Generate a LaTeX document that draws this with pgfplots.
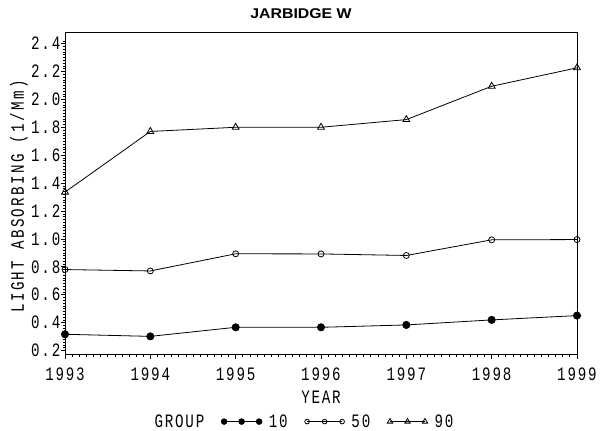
\documentclass[border=0pt]{standalone}
\usepackage{pgfplots}
\pgfplotsset{compat=1.18}
\usepackage{pgfplotstable}
\usepackage{fontspec}
\newfontfamily\sastick[FakeStretch=0.75, LetterSpace=9.5]{Liberation Mono}
\newfontfamily\saslab[FakeStretch=0.75, LetterSpace=12.5]{Liberation Mono}
\newfontfamily\titlefont[FakeStretch=1.12]{Liberation Sans}
\newcommand\tickf{\sastick\fontsize{19}{20}\selectfont}
\newcommand\labf{\saslab\fontsize{19}{20}\selectfont}
\pgfplotstableread{
year g10 g50 g90
1993 0.316 0.780 1.335
1994 0.301 0.770 1.77
1995 0.366 0.893 1.80
1996 0.366 0.892 1.80
1997 0.383 0.881 1.855
1998 0.419 0.993 2.094
1999 0.450 0.995 2.226
}\datatable
\begin{document}
\begin{tikzpicture}[x=1bp,y=1bp]
\path[use as bounding box] (0,0) rectangle (600,430);
\node[font=\titlefont\bfseries\fontsize{14.2}{16}\selectfont] at (301,416.7) {JARBIDGE W};
\begin{axis}[
  at={(65bp,75.5bp)}, anchor=south west,
  scale only axis, width=512bp, height=322.5bp,
  xmin=1993, xmax=1999, ymin=0.171, ymax=2.483,
  xtick={1993,1994,...,1999}, ytick={0.2,0.4,...,2.4},
  minor xtick={1993,1993.083333,...,1999},
  minor ytick={0.2,0.22,...,2.41},
  tick align=outside, xtick pos=bottom, ytick pos=left,
  major tick length=4bp, minor tick length=2.5bp,
  every tick/.style={black, line width=0.6bp},
  every minor tick/.style={black, line width=0.5bp},
  axis line style={line width=0.8bp},
  /pgf/number format/assume math mode=true,
  xticklabel style={/pgf/number format/1000 sep={}, font=\tickf, inner sep=2bp, yshift=-7bp},
  yticklabel style={/pgf/number format/fixed, /pgf/number format/precision=1, /pgf/number format/fixed zerofill, font=\tickf, inner sep=0.5bp},
  xlabel={YEAR}, ylabel={LIGHT ABSORBING (1/Mm)},
  xlabel style={font=\tickf, at={(axis description cs:0.5,-0.132)}, anchor=center},
  ylabel style={font=\labf, at={(axis description cs:-0.0898,0.49)}, anchor=center},
  legend columns=4,
  legend style={at={(axis description cs:0.46,-0.208)}, anchor=center, draw=none, font=\tickf, inner sep=0pt,
    nodes={inner sep=0bp},
    /tikz/every even column/.append style={column sep=17bp},
    /tikz/every odd column/.append style={column sep=7bp}},
  legend image code/.code={\draw[#1, every mark/.append style={scale=0.78}] plot coordinates {(0bp,0bp) (17.5bp,0bp) (35bp,0bp)};},
]
\addlegendimage{empty legend}
\addlegendentry{GROUP}
\addplot[black, line width=0.8bp, mark=*, mark size=3.6bp] table[x=year, y=g10] {\datatable};
\addlegendentry{10}
\addplot[black, line width=0.8bp, mark=o, mark size=3bp, mark options={line width=0.8bp}] table[x=year, y=g50] {\datatable};
\addlegendentry{50}
\addplot[black, line width=0.8bp, mark=triangle, mark size=4bp, mark options={line width=0.8bp}] table[x=year, y=g90] {\datatable};
\addlegendentry{90}
\end{axis}
\end{tikzpicture}
\end{document}
